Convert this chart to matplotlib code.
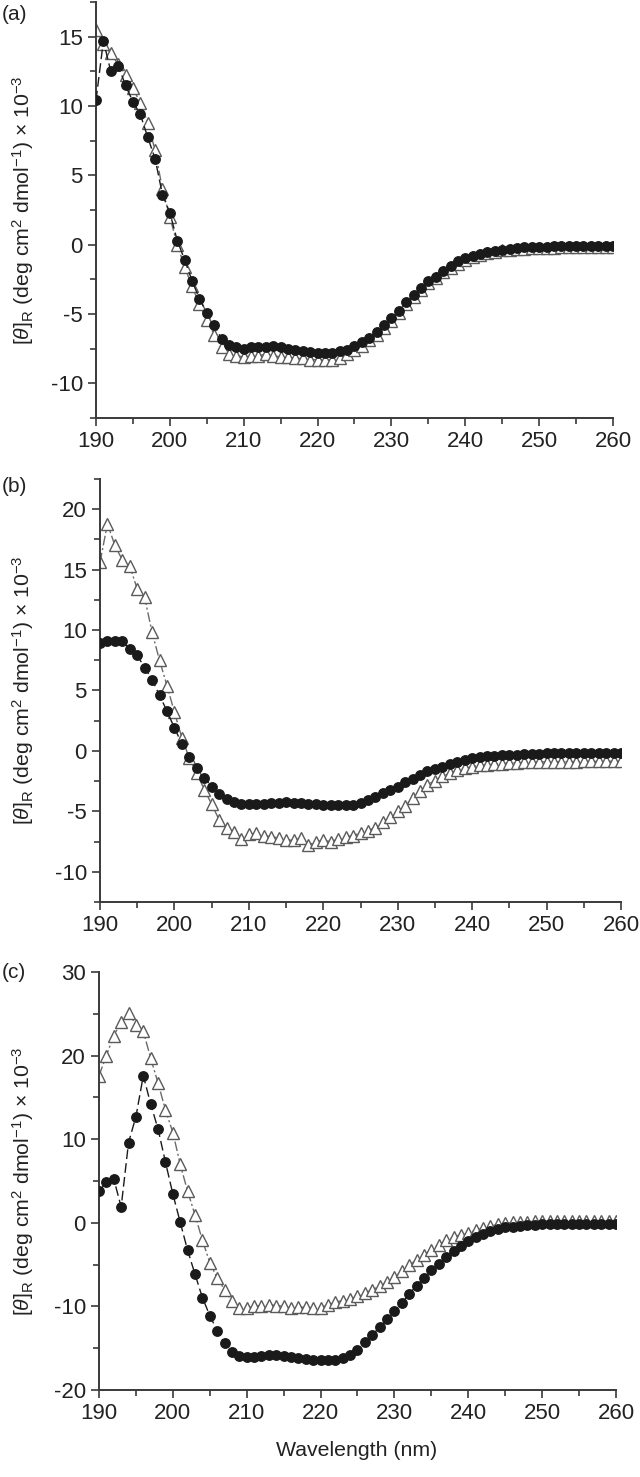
import numpy as np
import matplotlib
matplotlib.use("Agg")
import matplotlib.pyplot as plt
from matplotlib.ticker import MultipleLocator

plt.rcParams['font.family'] = ['Liberation Sans', 'DejaVu Sans']
plt.rcParams['mathtext.fontset'] = 'custom'
plt.rcParams['mathtext.rm'] = 'Liberation Sans'
plt.rcParams['mathtext.it'] = 'Liberation Sans:italic'
plt.rcParams['axes.unicode_minus'] = False

wavelength = list(range(190, 261))

# Panel (a)
a_circles = [10.4, 14.7, 12.5, 12.9, 11.5, 10.3, 9.4, 7.75, 6.2, 3.6,
             2.3, 0.3, -1.1, -2.6, -3.9, -4.9, -5.8, -6.8, -7.2, -7.4,
             -7.5, -7.4, -7.4, -7.4, -7.3, -7.4, -7.5, -7.6, -7.7, -7.75,
             -7.8, -7.8, -7.8, -7.7, -7.6, -7.3, -7.05, -6.7, -6.3, -5.8,
             -5.3, -4.75, -4.15, -3.6, -3.1, -2.65, -2.3, -1.9, -1.55, -1.2,
             -0.95, -0.8, -0.65, -0.55, -0.45, -0.35, -0.3, -0.25, -0.2, -0.18,
             -0.15, -0.14, -0.13, -0.12, -0.12, -0.11, -0.1, -0.1, -0.1, -0.1, -0.1]
a_triangles = [15.5, 14.5, 13.8, 13.0, 12.2, 11.3, 10.2, 8.8, 6.8, 4.0,
               2.0, 0.0, -1.6, -3.0, -4.3, -5.4, -6.5, -7.4, -7.9, -8.0,
               -8.1, -8.0, -8.0, -7.9, -8.0, -8.1, -8.1, -8.2, -8.2, -8.3,
               -8.3, -8.3, -8.3, -8.2, -7.9, -7.6, -7.3, -6.9, -6.5, -6.0,
               -5.5, -4.9, -4.3, -3.8, -3.3, -2.8, -2.4, -2.0, -1.7, -1.4,
               -1.1, -0.9, -0.75, -0.6, -0.5, -0.4, -0.35, -0.3, -0.28, -0.25,
               -0.24, -0.22, -0.21, -0.2, -0.2, -0.19, -0.18, -0.17, -0.16, -0.15, -0.15]

# Panel (b)
b_circles = [8.9, 9.1, 9.1, 9.1, 8.4, 7.9, 6.9, 5.9, 4.6, 3.3,
             1.9, 0.6, -0.5, -1.4, -2.2, -2.95, -3.55, -4.0, -4.2, -4.4,
             -4.4, -4.4, -4.35, -4.3, -4.3, -4.25, -4.3, -4.3, -4.35, -4.4,
             -4.45, -4.5, -4.5, -4.5, -4.45, -4.3, -4.05, -3.8, -3.5, -3.2,
             -2.95, -2.6, -2.3, -2.0, -1.7, -1.5, -1.3, -1.1, -0.9, -0.75,
             -0.6, -0.5, -0.45, -0.4, -0.35, -0.33, -0.3, -0.28, -0.25, -0.22,
             -0.2, -0.2, -0.2, -0.2, -0.2, -0.2, -0.2, -0.2, -0.2, -0.2, -0.2]
b_triangles = [15.6, 18.8, 17.0, 15.8, 15.3, 13.4, 12.7, 9.8, 7.5, 5.4,
               3.2, 1.1, -0.6, -1.8, -3.2, -4.4, -5.7, -6.4, -6.7, -7.3,
               -6.9, -6.8, -7.0, -7.1, -7.2, -7.35, -7.4, -7.2, -7.8, -7.5,
               -7.4, -7.5, -7.3, -7.1, -7.0, -6.8, -6.6, -6.35, -5.9, -5.45,
               -5.0, -4.55, -3.9, -3.3, -2.8, -2.45, -2.1, -1.85, -1.6, -1.45,
               -1.3, -1.2, -1.15, -1.1, -1.05, -1.0, -0.98, -0.95, -0.95, -0.92,
               -0.9, -0.9, -0.9, -0.88, -0.88, -0.87, -0.87, -0.86, -0.86, -0.85, -0.85]

# Panel (c)
c_circles = [3.75, 4.9, 5.25, 1.9, 9.6, 12.7, 17.6, 14.2, 11.2, 7.25,
             3.45, 0.05, -3.3, -6.15, -8.95, -11.1, -12.9, -14.4, -15.4, -15.9,
             -16.1, -16.0, -15.9, -15.8, -15.85, -15.9, -16.1, -16.2, -16.3, -16.4,
             -16.4, -16.4, -16.4, -16.2, -15.8, -15.2, -14.3, -13.4, -12.5, -11.5,
             -10.5, -9.6, -8.5, -7.5, -6.6, -5.7, -4.9, -4.1, -3.4, -2.8,
             -2.2, -1.7, -1.3, -1.0, -0.75, -0.55, -0.45, -0.35, -0.3, -0.25,
             -0.2, -0.2, -0.18, -0.17, -0.16, -0.15, -0.15, -0.15, -0.15, -0.15, -0.15]
c_triangles = [17.6, 20.0, 22.4, 24.0, 25.1, 23.7, 22.9, 19.7, 16.7, 13.5,
               10.8, 7.0, 3.75, 0.95, -2.1, -4.75, -6.6, -8.0, -9.4, -10.2,
               -10.2, -10.0, -9.9, -9.8, -9.9, -10.0, -10.2, -10.1, -10.1, -10.2,
               -10.2, -9.8, -9.5, -9.3, -9.1, -8.8, -8.4, -8.0, -7.6, -7.1,
               -6.5, -5.8, -5.1, -4.4, -3.8, -3.2, -2.6, -2.1, -1.7, -1.45,
               -1.2, -0.9, -0.6, -0.4, -0.2, -0.05, 0.05, 0.1, 0.15, 0.18,
               0.2, 0.2, 0.2, 0.2, 0.2, 0.2, 0.2, 0.2, 0.2, 0.2, 0.2]

panel_labels = ['(a)', '(b)', '(c)']
ylims = [(-12.5, 17.5), (-12.5, 22.5), (-20, 30)]
ymajor = [5, 5, 10]
yminor = [2.5, 2.5, 5]
ylabel = r'$[\theta]_{\rm R}$ (deg cm$^{2}$ dmol$^{-1}$) × 10$^{-3}$'

W, H = 640, 1477
boxes = [(96, 613, 2, 418), (100, 621, 479, 902), (99, 616, 972, 1390)]
label_y = [14, 487, 972]

fig = plt.figure(figsize=(6.4, 14.77), dpi=100)
spine_col = '#3a3a3a'
text_col = '#222222'
data = [(a_circles, a_triangles), (b_circles, b_triangles), (c_circles, c_triangles)]

for i, ((x0, x1, y0, y1), (circ, tri)) in enumerate(zip(boxes, data)):
    ax = fig.add_axes([x0 / W, 1 - y1 / H, (x1 - x0) / W, (y1 - y0) / H])
    ax.plot(wavelength, tri, color='#6a6a6a', lw=1.0, dashes=(7, 2, 1.5, 2),
            marker='^', markersize=8, markerfacecolor='white',
            markeredgecolor='#5a5a5a', markeredgewidth=1.0, zorder=2)
    ax.plot(wavelength, circ, color='#1a1a1a', lw=1.0, dashes=(7, 3),
            marker='o', markersize=6.8, markerfacecolor='#1a1a1a',
            markeredgecolor='#1a1a1a', zorder=3)
    ax.set_xlim(190, 260)
    ax.set_ylim(*ylims[i])
    ax.xaxis.set_major_locator(MultipleLocator(10))
    ax.xaxis.set_minor_locator(MultipleLocator(5))
    ax.yaxis.set_major_locator(MultipleLocator(ymajor[i]))
    ax.yaxis.set_minor_locator(MultipleLocator(yminor[i]))
    for s in ['top', 'right']:
        ax.spines[s].set_visible(False)
    for s in ['left', 'bottom']:
        ax.spines[s].set_color(spine_col)
        ax.spines[s].set_linewidth(1.4)
    ax.tick_params(which='major', length=5.5, width=1.2, color=spine_col,
                   labelsize=16, pad=4, labelcolor=text_col)
    ax.tick_params(which='minor', length=4, width=1.2, color=spine_col)
    cy = 1 - (y0 + y1) / 2 / H
    fig.text(23 / W, cy, ylabel, rotation=90, ha='center', va='center',
             fontsize=15.3, color=text_col)
    fig.text(2 / W, 1 - label_y[i] / H, panel_labels[i], ha='left',
             va='center', fontsize=15, color=text_col)

fig.text(357 / W, 1 - 1450 / H, 'Wavelength (nm)', ha='center', va='center',
         fontsize=15.3, color=text_col)

fig.savefig('out.png', dpi=100)
